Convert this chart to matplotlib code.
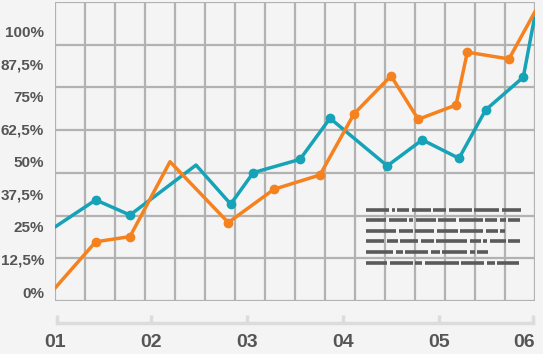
import matplotlib.pyplot as plt

plt.rcParams["font.family"] = ["Liberation Sans", "DejaVu Sans"]

# data (x in label units: 0 = "01", 5 = "06"; y in percent)
teal_x = [0, 0.424, 0.781, 1.469, 1.830, 2.066, 2.552, 2.865, 3.461, 3.826, 4.208, 4.486, 4.878, 5.0]
teal_y = [25.0, 35.4, 29.6, 48.8, 33.8, 45.9, 51.0, 66.8, 48.5, 58.5, 51.4, 70.0, 82.6, 106.5]
orange_x = [0, 0.424, 0.781, 1.198, 1.805, 2.281, 2.760, 3.115, 3.500, 3.784, 4.177, 4.295, 4.729, 5.0]
orange_y = [1.5, 19.3, 21.3, 50.1, 26.7, 39.5, 45.0, 68.5, 83.1, 66.4, 71.9, 92.2, 89.6, 107.8]

x_labels = ["01", "02", "03", "04", "05", "06"]
y_ticks = [0, 12.5, 25, 37.5, 50, 62.5, 75, 87.5, 100]
y_labels = ["0%", "12,5%", "25%", "37,5%", "50%", "62,5%", "75%", "87,5%", "100%"]

# placeholder "text" block: word lengths (px) per row
text_rows = [
    [23, 3, 12, 19, 13, 23, 25, 19],
    [20, 18, 4, 20, 18, 24, 12, 6, 12],
    [30, 14, 19, 21, 23, 12, 5],
    [18, 11, 18, 13, 31, 11, 4, 16, 12],
    [27, 7, 23, 9, 25, 5, 11],
    [21, 23, 7, 34, 23, 8, 22],
]

W, H = 543, 354
bg = "#f4f4f4"
grid_c = "#b2b2b2"
teal = "#16a3b8"
orange = "#f5821f"
label_c = "#555555"

fig = plt.figure(figsize=(W / 100, H / 100), dpi=100, facecolor=bg)
ax = fig.add_axes([55 / W, (H - 301) / H, 480 / W, 299 / H])
ax.set_facecolor(bg)

ymin, ymax = -3.46, 111.5
ax.set_xlim(0, 5)
ax.set_ylim(ymin, ymax)

# grid
for i in range(17):
    ax.axvline(i * 5 / 16, color=grid_c, lw=1.6, zorder=1)
for i in range(8):
    ax.axhline(ymin + i * (ymax - ymin) / 7, color=grid_c, lw=1.6, zorder=1)
for s in ax.spines.values():
    s.set_visible(False)

# peaks at index 3 have no dot
t_mk = [i for i in range(1, len(teal_x) - 1) if i != 3]
o_mk = [i for i in range(1, len(orange_x) - 1) if i != 3]

ax.plot(teal_x, teal_y, color=teal, lw=2.5, zorder=3, solid_joinstyle="round")
ax.plot([teal_x[i] for i in t_mk], [teal_y[i] for i in t_mk], "o", color=teal, ms=6, zorder=4)
ax.plot(orange_x, orange_y, color=orange, lw=2.5, zorder=3, solid_joinstyle="round")
ax.plot([orange_x[i] for i in o_mk], [orange_y[i] for i in o_mk], "o", color=orange, ms=6, zorder=4)

ax.set_yticks(y_ticks)
ax.set_yticklabels(y_labels, fontsize=11, fontweight="bold", color=label_c)
ax.set_xticks(range(6))
ax.set_xticklabels(x_labels, fontsize=14, fontweight="bold", color=label_c)
ax.tick_params(axis="y", length=0, pad=8)
ax.tick_params(axis="x", length=0, pad=24)
ax.get_xticklabels()[-1].set_ha("right")

# bracket under the grid
tr = ax.get_xaxis_transform()
yb = -22 / 299
yt = -14 / 299
ax.plot([0.02, 4.98], [yb, yb], color="#dcdcdc", lw=2.5, transform=tr, clip_on=False)
for i in range(6):
    xx = min(max(i, 0.02), 4.98)
    ax.plot([xx, xx], [yb, yt], color="#dcdcdc", lw=2.5, transform=tr,
            clip_on=False, solid_capstyle="butt")

# placeholder text lines in pixel space
ov = fig.add_axes([0, 0, 1, 1], facecolor="none")
ov.set_xlim(0, W)
ov.set_ylim(H, 0)
ov.axis("off")
row_y = [209.5, 220, 230.5, 241, 251.5, 262.5]
for ry, words in zip(row_y, text_rows):
    x0 = 366
    for w in words:
        ov.plot([x0, x0 + w], [ry, ry], color="#5a5a5a", lw=2.6, solid_capstyle="butt")
        x0 += w + 2.5

fig.savefig("out.png", dpi=100, facecolor=bg)
